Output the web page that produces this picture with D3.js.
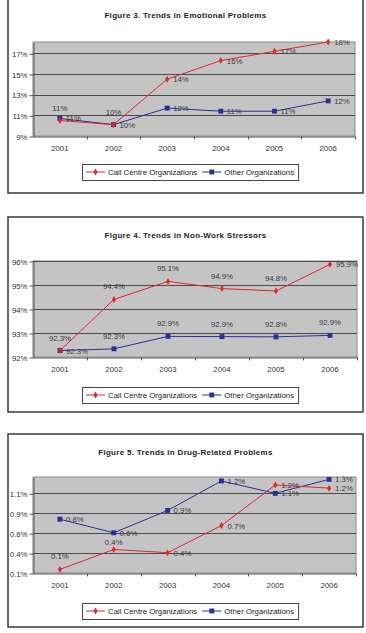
<!DOCTYPE html>
<html>
<head>
<meta charset="utf-8">
<script src="https://cdn.jsdelivr.net/npm/d3@7"></script>
<style>
  body { margin: 0; background: #fff; }
  svg { display: block; font-family: "Liberation Sans", Arial, sans-serif; }
</style>
</head>
<body>
<div class="container"></div>
<script>
const years = ["2001", "2002", "2003", "2004", "2005", "2006"];
const seriesNames = ["Call Centre Organizations", "Other Organizations"];

// Figure 3
const emoCall = [10.5, 10.1, 14.5, 16.3, 17.2, 18.1];
const emoOther = [10.7, 10.1, 11.7, 11.4, 11.4, 12.4];
const emoCallLabels = ["11%", "10%", "14%", "16%", "17%", "18%"];
const emoOtherLabels = ["11%", "10%", "12%", "11%", "11%", "12%"];
const emoTicks = [9, 11, 13, 15, 17];
const emoTickLabels = ["9%", "11%", "13%", "15%", "17%"];

// Figure 4
const stressCall = [92.27, 94.4, 95.15, 94.85, 94.75, 95.86];
const stressOther = [92.27, 92.34, 92.86, 92.85, 92.84, 92.9];
const stressCallLabels = ["92.3%", "94.4%", "95.1%", "94.9%", "94.8%", "95.9%"];
const stressOtherLabels = ["92.3%", "92.3%", "92.9%", "92.9%", "92.8%", "92.9%"];
const stressTicks = [92, 93, 94, 95, 96];
const stressTickLabels = ["92%", "93%", "94%", "95%", "96%"];

// Figure 5
const drugCall = [0.17, 0.42, 0.38, 0.72, 1.23, 1.19];
const drugOther = [0.80, 0.63, 0.91, 1.28, 1.125, 1.30];
const drugCallLabels = ["0.1%", "0.4%", "0.4%", "0.7%", "1.2%", "1.2%"];
const drugOtherLabels = ["0.8%", "0.6%", "0.9%", "1.2%", "1.1%", "1.3%"];
const drugTicks = [0.125, 0.375, 0.625, 0.875, 1.125];
const drugTickLabels = ["0.1%", "0.4%", "0.6%", "0.9%", "1.1%"];

const red = "#e2262b";
const blue = "#2b2f98";
const fontSize = 7.8;

const width = 366, height = 633;
const svg = d3.select(".container").append("svg")
  .attr("width", width).attr("height", height);

const charts = [
  {
    title: "Figure 3.  Trends in Emotional Problems",
    box: [8, -3, 363, 193], plot: [33, 42, 355, 136], legendY: 164,
    domain: [9, 18.1], ticks: emoTicks, tickLabels: emoTickLabels,
    call: emoCall, other: emoOther, callLabels: emoCallLabels, otherLabels: emoOtherLabels,
    callPos: ["above", "above", "right", "right", "right", "right"],
    otherPos: ["right", "right", "right", "right", "right", "right"]
  },
  {
    title: "Figure 4.  Trends in Non-Work Stressors",
    box: [8, 217, 363, 412], plot: [33, 261, 357, 357], legendY: 387,
    domain: [92, 96], ticks: stressTicks, tickLabels: stressTickLabels,
    call: stressCall, other: stressOther, callLabels: stressCallLabels, otherLabels: stressOtherLabels,
    callPos: ["above", "above", "above", "above", "above", "right"],
    otherPos: ["right", "above", "above", "above", "above", "above"]
  },
  {
    title: "Figure 5.  Trends in Drug-Related Problems",
    box: [8, 434, 363, 627], plot: [33, 477, 356, 573], legendY: 603,
    domain: [0.125, 1.33], ticks: drugTicks, tickLabels: drugTickLabels,
    call: drugCall, other: drugOther, callLabels: drugCallLabels, otherLabels: drugOtherLabels,
    callPos: ["above", "near", "right", "right", "right", "right"],
    otherPos: ["right", "right", "right", "right", "right", "right"]
  }
];

charts.forEach(drawChart);

function drawChart(c) {
  const [bx0, by0, bx1, by1] = c.box;
  const [px0, py0, px1, py1] = c.plot;
  const g = svg.append("g");

  g.append("rect")
    .attr("x", bx0).attr("y", by0)
    .attr("width", bx1 - bx0).attr("height", by1 - by0)
    .attr("fill", "#fff").attr("stroke", "#3a3a3a").attr("stroke-width", 1.5);

  g.append("text")
    .attr("x", (bx0 + bx1) / 2).attr("y", by0 + 21)
    .attr("text-anchor", "middle")
    .attr("font-size", 8).attr("font-weight", "bold")
    .attr("letter-spacing", 0.3)
    .attr("fill", "#222")
    .text(c.title);

  const x = d3.scaleBand(years, [px0, px1]);
  const y = d3.scaleLinear(c.domain, [py1, py0]);

  // plot area
  g.append("rect")
    .attr("x", px0).attr("y", py0)
    .attr("width", px1 - px0).attr("height", py1 - py0)
    .attr("fill", "#c4c4c4").attr("stroke", "#8a8a8a").attr("stroke-width", 1);

  // gridlines
  g.append("g").selectAll("line")
    .data(c.ticks.filter(t => t > c.domain[0])).enter().append("line")
    .attr("x1", px0).attr("x2", px1)
    .attr("y1", d => Math.round(y(d)) + 0.5).attr("y2", d => Math.round(y(d)) + 0.5)
    .attr("stroke", "#4a4a4a").attr("stroke-width", 1);

  // y axis
  const yAxis = d3.axisLeft(y)
    .tickValues(c.ticks)
    .tickFormat((d, i) => c.tickLabels[i])
    .tickSize(4).tickPadding(2).tickSizeOuter(0);
  const ya = g.append("g").attr("transform", `translate(${px0 + 0.5},0.5)`).call(yAxis);
  ya.select(".domain").attr("stroke", "#555");
  ya.selectAll(".tick line").attr("stroke", "#555");
  ya.selectAll(".tick text").attr("font-size", fontSize).attr("fill", "#333")
    .attr("font-family", "Liberation Sans, Arial, sans-serif");

  // x axis, ticks between categories
  const xAxis = d3.axisBottom(x).tickSize(0).tickPadding(9).tickSizeOuter(0);
  const xa = g.append("g").attr("transform", `translate(0,${py1 + 0.5})`).call(xAxis);
  xa.select(".domain").attr("stroke", "#555");
  xa.selectAll(".tick text").attr("font-size", fontSize).attr("fill", "#333")
    .attr("font-family", "Liberation Sans, Arial, sans-serif");
  xa.selectAll(".sep").data(years).enter().append("line")
    .attr("x1", d => Math.round(x(d) + x.bandwidth()) + 0.5)
    .attr("x2", d => Math.round(x(d) + x.bandwidth()) + 0.5)
    .attr("y1", 0).attr("y2", 3)
    .attr("stroke", "#555");

  const cx = d => x(d) + x.bandwidth() / 2;
  const line = d3.line().x(d => cx(d[0])).y(d => y(d[1]));

  const series = [
    { vals: c.other, labels: c.otherLabels, pos: c.otherPos, color: blue, sym: d3.symbolSquare, size: 24 },
    { vals: c.call, labels: c.callLabels, pos: c.callPos, color: red, sym: d3.symbolDiamond, size: 14 }
  ];

  series.forEach(s => {
    const pts = years.map((yr, i) => [yr, s.vals[i]]);
    g.append("path").datum(pts)
      .attr("d", line).attr("fill", "none")
      .attr("stroke", s.color).attr("stroke-width", 1);
    g.append("g").selectAll("path").data(pts).enter().append("path")
      .attr("d", d3.symbol(s.sym, s.size))
      .attr("transform", d => `translate(${cx(d[0])},${y(d[1])})`)
      .attr("fill", s.color);
  });

  // data labels: right of the point, above it, or just above ("near")
  const dy = { right: 3, above: -10, near: -4 };
  series.forEach(s => {
    g.append("g").selectAll("text").data(years).enter().append("text")
      .attr("x", (d, i) => s.pos[i] === "right" ? cx(d) + 6 : cx(d))
      .attr("y", (d, i) => y(s.vals[i]) + dy[s.pos[i]])
      .attr("text-anchor", (d, i) => s.pos[i] === "right" ? "start" : "middle")
      .attr("font-size", fontSize).attr("fill", "#3a3a3a")
      .text((d, i) => s.labels[i]);
  });

  // legend
  const lg = g.append("g");
  const ly = c.legendY + 8;
  let lx = 0;
  const items = [
    { name: seriesNames[0], color: red, sym: d3.symbolDiamond, size: 14 },
    { name: seriesNames[1], color: blue, sym: d3.symbolSquare, size: 24 }
  ];
  items.forEach(it => {
    const ig = lg.append("g").attr("transform", `translate(${lx},0)`);
    ig.append("line").attr("x1", 3).attr("x2", 22).attr("y1", ly).attr("y2", ly)
      .attr("stroke", it.color).attr("stroke-width", 1);
    ig.append("path").attr("d", d3.symbol(it.sym, it.size))
      .attr("transform", `translate(12.5,${ly})`).attr("fill", it.color);
    const t = ig.append("text").attr("x", 25).attr("y", ly + 2.8)
      .attr("font-size", fontSize).attr("fill", "#222").text(it.name);
    lx += 25 + t.node().getComputedTextLength() + 2;
  });
  const lw = lx + 3;
  const left = Math.round((bx0 + bx1) / 2 - lw / 2) + 6;
  lg.attr("transform", `translate(${left},0)`);
  lg.insert("rect", ":first-child")
    .attr("x", -0.5).attr("y", c.legendY + 0.5)
    .attr("width", lw).attr("height", 16)
    .attr("fill", "#fff").attr("stroke", "#444").attr("stroke-width", 1);
}
</script>
</body>
</html>
